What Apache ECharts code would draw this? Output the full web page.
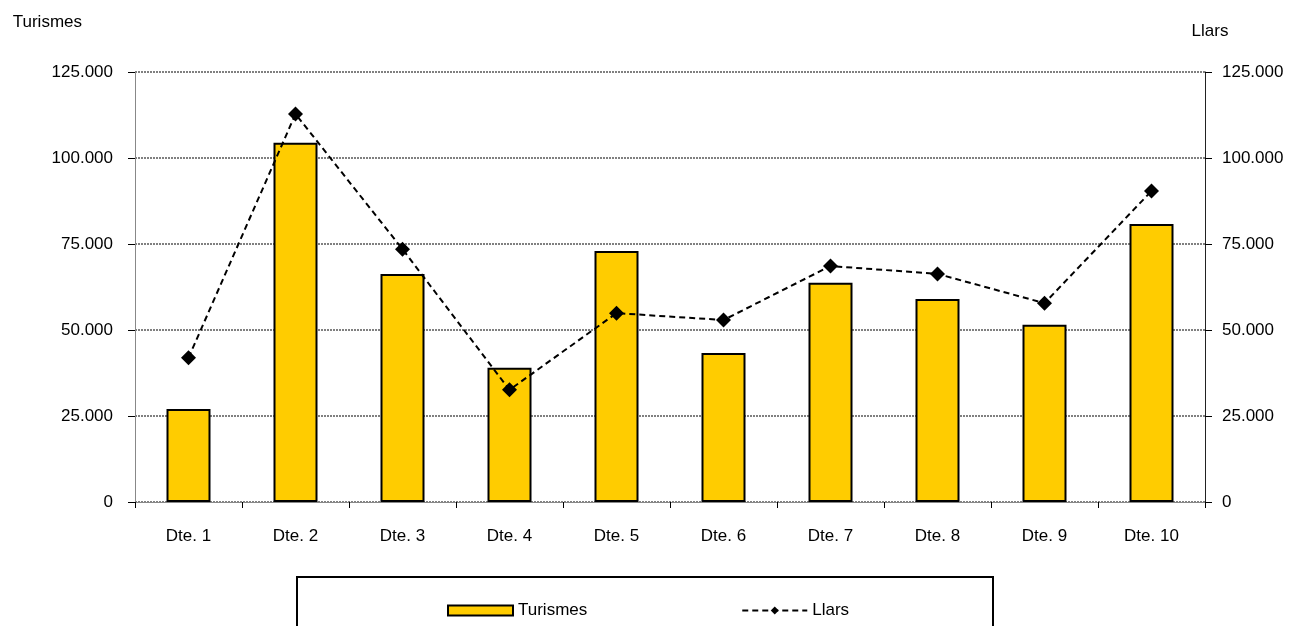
<!DOCTYPE html>
<html>
<head>
<meta charset="utf-8">
<script src="https://cdn.jsdelivr.net/npm/echarts@6/dist/echarts.min.js"></script>
<style>html,body{margin:0;padding:0;background:#fff}#c{width:1294px;height:626px}</style>
</head>
<body>
<div id="c"></div>
<script>
var categories = ['Dte. 1','Dte. 2','Dte. 3','Dte. 4','Dte. 5','Dte. 6','Dte. 7','Dte. 8','Dte. 9','Dte. 10'];
var turismes = [27000, 104400, 66300, 39000, 73000, 43300, 63700, 59000, 51500, 80800];
var llars = [41900, 112800, 73500, 32600, 54900, 52900, 68600, 66300, 57800, 90400];
var yTicks = [0, 25000, 50000, 75000, 100000, 125000];

function fmt(v){ return String(v).replace(/\B(?=(\d{3})+(?!\d))/g, '.'); }
var FONT = 'Liberation Sans, Arial, sans-serif';
var FS = 17;
var chart = echarts.init(document.getElementById('c'));
chart.setOption({
  animation: false,
  textStyle: {fontFamily: FONT},
  grid: {left: 135, right: 89, top: 72, bottom: 124},
  legend: {
    left: 442, top: 597, itemWidth: 65, itemHeight: 10, itemGap: 154,
    textStyle: {fontSize: FS, color: '#000', fontFamily: FONT},
    data: [{name: 'Turismes', icon: 'rect'}, {name: 'Llars'}]
  },
  graphic: [{
    type: 'rect', shape: {x: 297, y: 577, width: 696, height: 70},
    style: {fill: 'none', stroke: '#000', lineWidth: 2}, silent: true
  }],
  xAxis: {
    type: 'category', data: categories,
    axisLine: {lineStyle: {color: '#888', width: 1}},
    axisTick: {show: true, length: 6, lineStyle: {color: '#000'}},
    axisLabel: {color: '#000', fontSize: FS, margin: 26, fontFamily: FONT}
  },
  yAxis: [{
    type: 'value', min: 0, max: 125000, interval: 25000,
    name: 'Turismes', nameGap: 41, nameLocation: 'end',
    nameTextStyle: {color: '#000', fontSize: FS, align: 'right', padding: [0, 53, 0, 0], fontFamily: FONT},
    axisLine: {show: true, lineStyle: {color: '#888'}},
    axisTick: {show: true, length: 7, lineStyle: {color: '#000'}},
    axisLabel: {color: '#000', fontSize: FS, margin: 22, formatter: fmt, fontFamily: FONT},
    splitLine: {show: true, lineStyle: {color: '#808080', width: 2, type: [2, 1]}}
  }, {
    type: 'value', min: 0, max: 125000, interval: 25000, position: 'right',
    name: 'Llars', nameGap: 32, nameLocation: 'end',
    nameTextStyle: {color: '#000', fontSize: FS, padding: [0, 0, 0, 10], fontFamily: FONT},
    axisLine: {show: true, lineStyle: {color: '#222'}},
    axisTick: {show: true, length: 7, lineStyle: {color: '#000'}},
    axisLabel: {color: '#000', fontSize: FS, margin: 17, formatter: fmt, fontFamily: FONT},
    splitLine: {show: false}
  }],
  series: [{
    name: 'Turismes', type: 'bar', data: turismes, barWidth: 44, yAxisIndex: 0,
    itemStyle: {color: '#FFCC00', borderColor: '#000', borderWidth: 2}
  }, {
    name: 'Llars', type: 'line', data: llars, yAxisIndex: 1,
    symbol: 'diamond', symbolSize: 15,
    itemStyle: {color: '#000'},
    lineStyle: {color: '#000', width: 2, type: [6, 4]}
  }]
});
</script>
</body>
</html>
